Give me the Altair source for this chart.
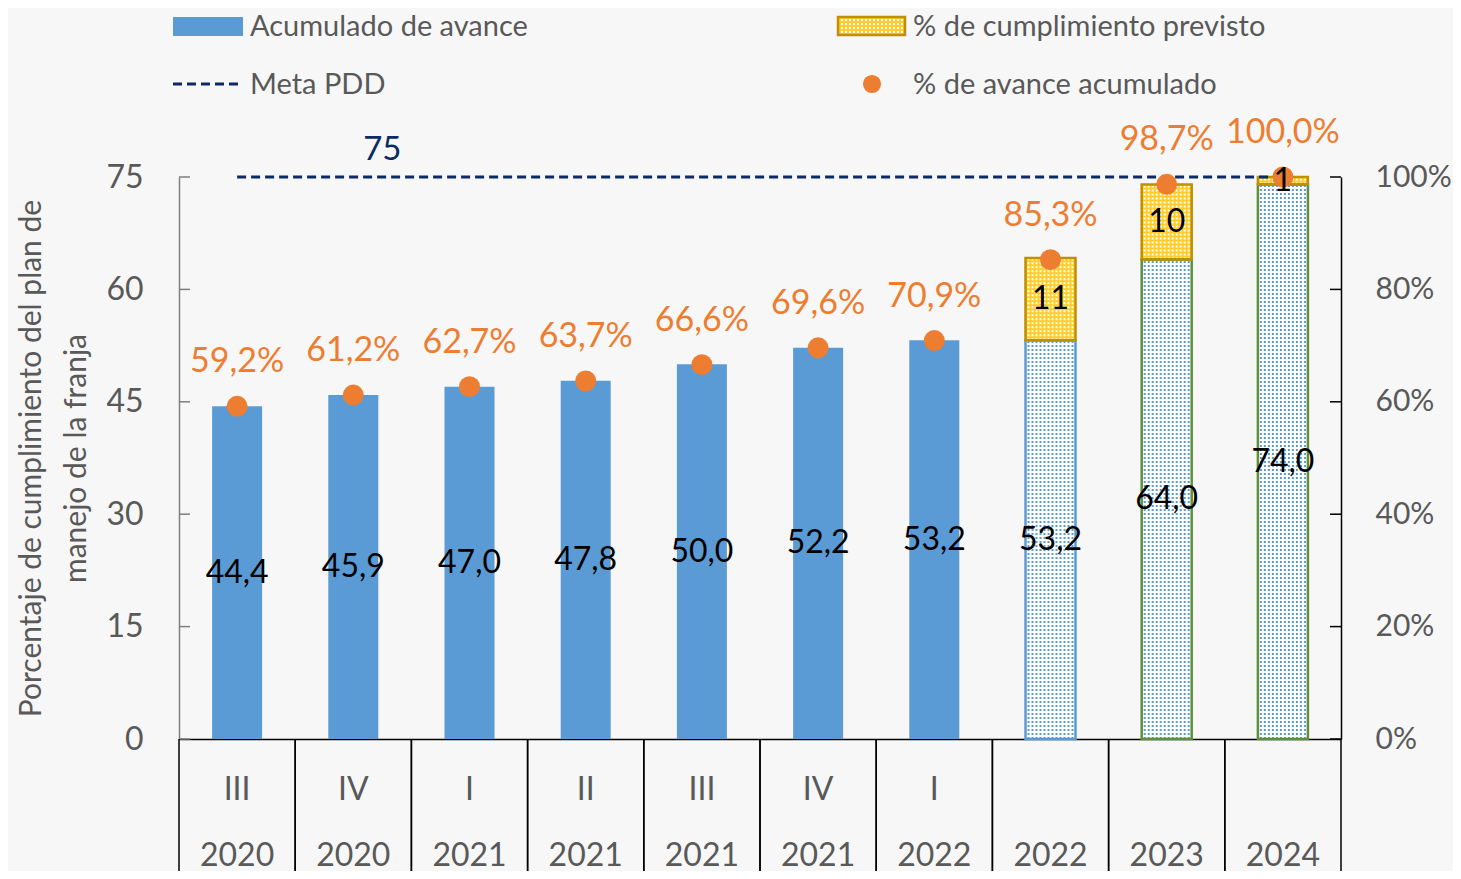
import altair as alt
import pandas as pd

# ---------------- data ----------------
periodos = ["III", "IV", "I", "II", "III", "IV", "I", "", "", ""]
anios = ["2020", "2020", "2021", "2021", "2021", "2021", "2022", "2022", "2023", "2024"]
avance = [44.4, 45.9, 47.0, 47.8, 50.0, 52.2, 53.2, 53.2, 64.0, 74.0]
previsto = [None, None, None, None, None, None, None, 11, 10, 1]
pct_avance = [59.2, 61.2, 62.7, 63.7, 66.6, 69.6, 70.9, 85.3, 98.7, 100.0]
meta_pdd = 75
ticks_izq = [0, 15, 30, 45, 60, 75]
ticks_der = [0, 20, 40, 60, 80, 100]
legend_labels = ["Acumulado de avance", "% de cumplimiento previsto",
                 "Meta PDD", "% de avance acumulado"]
titulo_y = ["Porcentaje de cumplimiento del plan de", "manejo de la franja"]

cats = [f"{p}|{a}" for p, a in zip(periodos, anios)]
df = pd.DataFrame({"cat": cats, "avance": avance, "previsto": previsto,
                   "pct": pct_avance, "meta": [meta_pdd] * len(cats)})

# ---------------- style ----------------
FONT = "Lato"
GRAY = "#595959"
BLUE = "#5B9BD5"
GREEN = "#5E8F3A"
YELLOW = "#FFCC29"
GOLD = "#BF9000"
ORANGE = "#ED7D31"
NAVY = "#0B2A66"
W, H = 1162, 562
BARW = 50

xscale = alt.Scale(domain=cats, paddingInner=0, paddingOuter=0)
xaxis = alt.Axis(title=None, labelExpr="split(datum.label, '|')", labelBaseline="top",
                 labelLineHeight=66, labelPadding=35, labelFontSize=32, labelColor=GRAY,
                 labelFont=FONT, ticks=False, domainColor="black", domainWidth=1.5,
                 labelOverlap=False, grid=False, labelAngle=0)
X = alt.X("cat:N", scale=xscale, axis=xaxis)

yscale = alt.Scale(domain=[0, 75], nice=False, zero=True)
yaxis = alt.Axis(values=ticks_izq, title=titulo_y, orient="left", ticks=False, grid=False,
                 domainColor="#7f7f7f", domainWidth=1.5, labelPadding=36, labelFontSize=32,
                 labelColor=GRAY, labelFont=FONT, titleFont=FONT, titleFontSize=30,
                 titleColor=GRAY, titleFontWeight="normal", titleX=-148, titleY=H / 2,
                 titleBaseline="middle", titleLineHeight=45, titleAlign="center")

rscale = alt.Scale(domain=[0, 100], nice=False, zero=True)
raxis = alt.Axis(orient="right", values=ticks_der, labelExpr="datum.value + '%'", ticks=False,
                 grid=False, domainColor="black", domainWidth=1.5, labelPadding=34,
                 labelFontSize=30, labelColor=GRAY, labelFont=FONT, title=None)


def YL(field):
    return alt.Y(field, scale=yscale, axis=yaxis)


base = alt.Chart(df)
proj = base.transform_filter("isValid(datum.previsto)").transform_calculate(
    zero="0", tope="datum.avance + datum.previsto")

left_layers = []
# solid bars
left_layers.append(base.transform_filter("!isValid(datum.previsto)")
                   .mark_bar(width=BARW, color=BLUE).encode(x=X, y=YL("avance:Q")))
# hatched bars: white base + blue dot texture
left_layers.append(proj.mark_bar(width=BARW, color="white").encode(x=X, y=YL("avance:Q")))
offsets = list(range(-22, 23, 4))
for k in offsets:
    left_layers.append(proj.mark_rule(xOffset=k, strokeDash=[2, 2], strokeWidth=2, color=BLUE)
                       .encode(x=X, y=YL("zero:Q"), y2=alt.Y2("avance:Q")))
# yellow planned segments + white dot texture
left_layers.append(proj.mark_bar(width=BARW, color=YELLOW)
                   .encode(x=X, y=YL("avance:Q"), y2=alt.Y2("tope:Q")))
for k in offsets:
    left_layers.append(proj.mark_rule(xOffset=k, strokeDash=[2, 2], strokeWidth=2, color="white")
                       .encode(x=X, y=YL("avance:Q"), y2=alt.Y2("tope:Q")))
# outlines
left_layers.append(proj.mark_bar(width=BARW, fillOpacity=0, strokeWidth=2.5)
                   .encode(x=X, y=YL("avance:Q"),
                           stroke=alt.condition(f"datum.cat == '{cats[7]}'",
                                                alt.value(BLUE), alt.value(GREEN))))
left_layers.append(proj.mark_bar(width=BARW, fillOpacity=0, strokeWidth=2.5, stroke=GOLD)
                   .encode(x=X, y=YL("avance:Q"), y2=alt.Y2("tope:Q")))
# meta line
left_layers.append(base.mark_line(strokeDash=[9, 5], strokeWidth=3, color=NAVY)
                   .encode(x=X, y=YL("meta:Q")))
left_layers.append(base.transform_filter(f"datum.cat == '{cats[1]}'")
                   .mark_text(dx=29, dy=-27, fontSize=33, color=NAVY, font=FONT)
                   .encode(x=X, y=YL("meta:Q"), text="meta:Q"))
# bar value labels
left_layers.append(base.transform_calculate(
    mid="datum.avance / 2",
    lab="replace(format(datum.avance, '.1f'), '.', ',')")
    .mark_text(fontSize=32, color="black", font=FONT, baseline="middle")
    .encode(x=X, y=YL("mid:Q"), text="lab:N"))
# left axis inner ticks
left_layers.append(alt.Chart(pd.DataFrame({"t": ticks_izq}))
                   .mark_rule(color="#7f7f7f", strokeWidth=1.5)
                   .encode(x=alt.value(0), x2=alt.value(11), y=YL("t:Q")))
# category separators
for bp in (0, 1):
    left_layers.append(base.mark_rule(color="black", strokeWidth=1.5)
                       .encode(x=alt.X("cat:N", scale=xscale, axis=xaxis, bandPosition=bp),
                               y=alt.value(H), y2=alt.value(H + 160)))

# legend
def leg_text(lab, x, y):
    return (alt.Chart(pd.DataFrame({"label": [lab]}))
            .mark_text(align="left", baseline="middle", fontSize=29, color=GRAY, font=FONT)
            .encode(x=alt.value(x), y=alt.value(y), text="label:N"))


one = pd.DataFrame({"label": [legend_labels[0]]})
left_layers.append(alt.Chart(one).mark_rect(color=BLUE)
                   .encode(x=alt.value(-6), x2=alt.value(64), y=alt.value(-160), y2=alt.value(-141)))
left_layers.append(leg_text(legend_labels[0], 71, -150))
left_layers.append(alt.Chart(one).mark_rule(strokeDash=[9, 5], strokeWidth=3, color=NAVY)
                   .encode(x=alt.value(-6), x2=alt.value(64), y=alt.value(-93)))
left_layers.append(leg_text(legend_labels[2], 71, -92))
left_layers.append(alt.Chart(one).mark_rect(color=YELLOW, stroke=GOLD, strokeWidth=2.5)
                   .encode(x=alt.value(659), x2=alt.value(726), y=alt.value(-160), y2=alt.value(-142)))
for yy in (-157, -153, -149, -145):
    left_layers.append(alt.Chart(one).mark_rule(strokeDash=[2, 2], strokeWidth=2, color="white")
                       .encode(x=alt.value(662), x2=alt.value(724), y=alt.value(yy)))
left_layers.append(leg_text(legend_labels[1], 734, -150))
left_layers.append(alt.Chart(one).mark_circle(size=330, color=ORANGE, opacity=1)
                   .encode(x=alt.value(693), y=alt.value(-93)))
left_layers.append(leg_text(legend_labels[3], 734, -92))

left = alt.layer(*left_layers)

# right axis group: % points
YR = alt.Y("pct:Q", scale=rscale, axis=raxis)
right_layers = [
    base.mark_circle(size=440, color=ORANGE, opacity=1).encode(x=X, y=YR),
    base.transform_calculate(lab="replace(format(datum.pct, '.1f'), '.', ',') + '%'")
    .mark_text(dy=-44, fontSize=34, color=ORANGE, font=FONT, baseline="middle")
    .encode(x=X, y=YR, text="lab:N"),
    alt.Chart(pd.DataFrame({"pct": ticks_der})).mark_rule(color="black", strokeWidth=1.5)
    .encode(x=alt.value(W - 11), x2=alt.value(W), y=YR),
]
right = alt.layer(*right_layers)

# planned segment labels on top of the points
top = proj.transform_calculate(mid2="datum.avance + datum.previsto / 2").mark_text(
    fontSize=32, color="black", font=FONT, baseline="middle").encode(
    x=X, y=alt.Y("mid2:Q", scale=alt.Scale(domain=[0, 75], nice=False, zero=True), axis=None),
    text=alt.Text("previsto:Q", format="d"))

chart = (alt.layer(left, right, top)
         .resolve_scale(y="independent")
         .properties(width=W, height=H,
                     padding={"left": 171, "top": 169, "right": 112, "bottom": 132},
                     autosize=alt.AutoSizeParams(type="none"),
                     background="#f7f7f7")
         .configure_view(stroke=None))

chart.save("out.html", embed_options={"renderer": "svg", "actions": False})
